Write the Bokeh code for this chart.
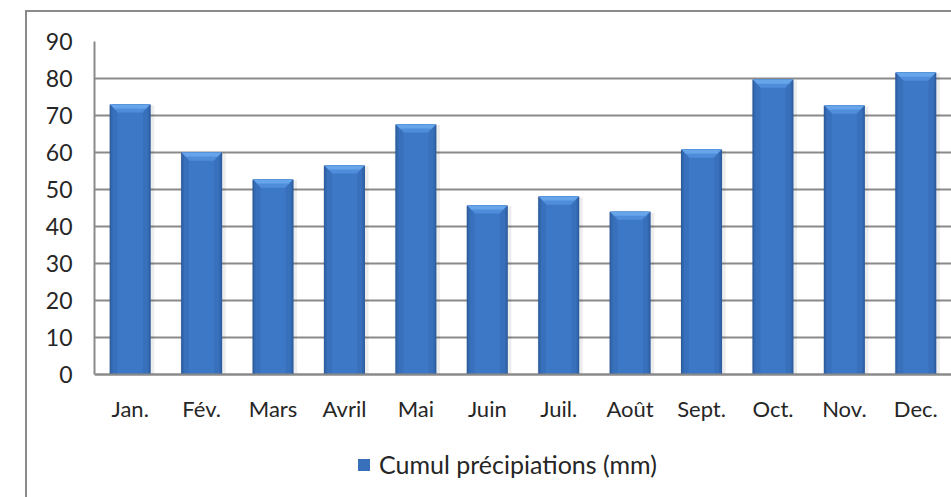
import numpy as np
from bokeh.plotting import figure
from bokeh.models import Range1d, FixedTicker, Legend, LegendItem
from bokeh.embed import file_html
from bokeh.resources import INLINE

# ---- data ----
months = ["Jan.", "Fév.", "Mars", "Avril", "Mai", "Juin", "Juil.", "Août",
          "Sept.", "Oct.", "Nov.", "Dec."]
precip = [73.0, 60.0, 52.7, 56.5, 67.6, 45.7, 48.1, 44.0, 60.8, 79.7, 72.7, 81.6]
y_ticks = [0, 10, 20, 30, 40, 50, 60, 70, 80, 90]
series_name = "Cumul précipiations (mm)"

FONT = "Lato"
GRID = "#8a8a8a"

# layout (pixels): canvas origin at page (27, 12) because of the outer border
FRAME_W, FRAME_H = 857, 456
PLOT_H = 333          # pixel height of the 0..90 value area inside the frame
y_top = y_ticks[-1]
y_start = y_top - FRAME_H * y_top / PLOT_H   # room below 0 for labels and legend

x = np.arange(1, len(months) + 1)
vals = np.array(precip)

p = figure(frame_width=FRAME_W, frame_height=FRAME_H,
           output_backend="svg", toolbar_location=None,
           x_range=Range1d(0.5, len(months) + 0.5), y_range=Range1d(y_start, y_top),
           min_border_left=67, min_border_right=0, min_border_top=29,
           min_border_bottom=0,
           styles={"margin-left": "25px", "margin-top": "10px",
                   "border-left": "2px solid #8a8a8a",
                   "border-top": "2px solid #8a8a8a"})
p.outline_line_color = None
p.background_fill_color = "white"
p.border_fill_color = "white"

W = 0.575
# soft shadow
p.vbar(x=x + 0.02, top=vals - 0.2, width=W + 0.06, bottom=0,
       fill_color="black", fill_alpha=0.07, line_color=None)
# body with simulated horizontal gradient
layers = [(1.00, "#2D5C9E"), (0.94, "#3367AE"), (0.86, "#3870BC"), (0.62, "#3C78C6")]
body = None
for frac, col in layers:
    r = p.vbar(x=x, top=vals, width=W * frac, bottom=0,
               fill_color=col, line_color=None)
    if frac == 0.86:
        body = r

# top bevel (trapezoids)
def bevel(h, inset, shrink=0.0):
    xs, ys = [], []
    for xi, v in zip(x, vals):
        hw = W / 2 - shrink
        xs.append([xi - hw, xi + hw, xi + hw - inset, xi - hw + inset])
        ys.append([v, v, v - h, v - h])
    return xs, ys

bx, by = bevel(2.2, 0.11, 0.006)
p.patches(bx, by, fill_color="#4F8CDA", line_color=None)
bx2, by2 = bevel(1.1, 0.055, 0.01)
p.patches(bx2, by2, fill_color="#67A5EB", line_color=None)

# axes
p.xaxis.ticker = FixedTicker(ticks=list(x))
p.xaxis.major_label_overrides = {int(i): m for i, m in zip(x, months)}
p.xaxis.fixed_location = 0
p.yaxis.ticker = FixedTicker(ticks=y_ticks)
p.yaxis.bounds = (0, y_top)
for ax in (p.xaxis[0], p.yaxis[0]):
    ax.axis_line_color = GRID
    ax.axis_line_width = 2
    ax.major_tick_line_color = None
    ax.minor_tick_line_color = None
    ax.major_tick_out = 0
    ax.major_tick_in = 0
    ax.major_label_text_font = FONT
    ax.major_label_text_color = "#262626"
p.xaxis.major_label_text_font_size = "22px"
p.yaxis.major_label_text_font_size = "23px"
p.xaxis.major_label_standoff = 20
p.yaxis.major_label_standoff = 22

p.xgrid.grid_line_color = None
p.ygrid.grid_line_color = GRID
p.ygrid.grid_line_width = 2

legend = Legend(items=[LegendItem(label=series_name, renderers=[body])],
                location=(262, 18), orientation="horizontal",
                glyph_width=15, glyph_height=15, label_standoff=8,
                padding=0, margin=0, border_line_color=None,
                background_fill_alpha=0,
                label_text_font=FONT, label_text_font_size="25px",
                label_text_color="#262626")
p.add_layout(legend, "center")

open("out.html", "w").write(file_html(p, INLINE))
